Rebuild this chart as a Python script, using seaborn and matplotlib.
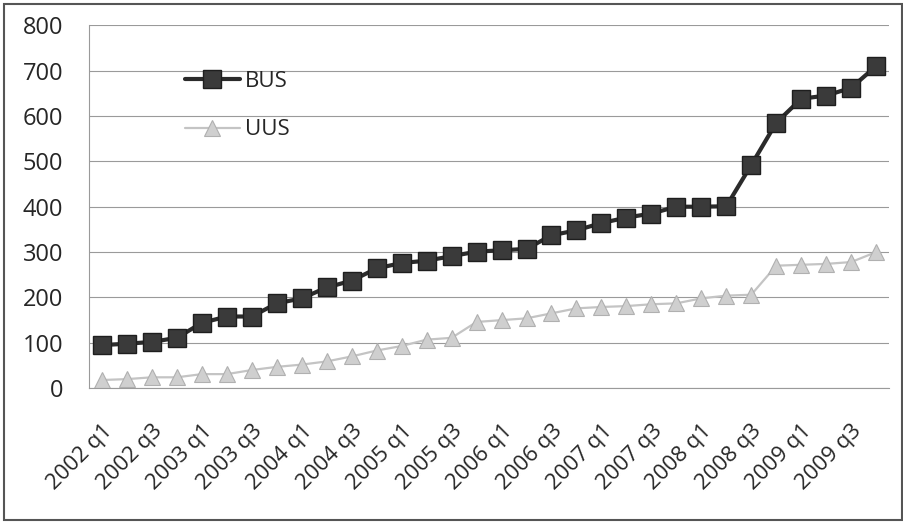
import pandas as pd
import numpy as np
import matplotlib.pyplot as plt
import seaborn as sns

# Data (quarterly, 2002 q1 .. 2009 q4)
years = list(range(2002, 2010))
quarters = [f"{y} q{q}" for y in years for q in range(1, 5)]
bus = [95, 98, 102, 111, 144, 158, 158, 187, 198, 222, 237, 264, 276, 281, 291, 301,
       304, 307, 337, 348, 364, 376, 385, 400, 400, 401, 492, 585, 638, 645, 662, 710]
uus = [18, 20, 24, 24, 31, 31, 40, 47, 52, 59, 70, 83, 93, 107, 111, 146,
       150, 154, 165, 176, 179, 181, 185, 187, 198, 204, 206, 270, 272, 274, 278, 300]
y_ticks = [0, 100, 200, 300, 400, 500, 600, 700, 800]

df = pd.DataFrame({'idx': np.arange(len(quarters)), 'quarter': quarters, 'BUS': bus, 'UUS': uus})

sns.set_style("white")
plt.rcParams['font.family'] = ['Open Sans', 'DejaVu Sans']

fig = plt.figure(figsize=(9.04, 5.26), dpi=100)
ax = fig.add_axes([0.099, 0.262, 0.884, 0.69])

sns.lineplot(data=df, x='idx', y='BUS', ax=ax, color='#2b2b2b', lw=3, marker='s',
             markersize=13.5, markerfacecolor='#3a3a3a', markeredgecolor='#1e1e1e',
             markeredgewidth=1, label='BUS')
sns.lineplot(data=df, x='idx', y='UUS', ax=ax, color='#c4c4c4', lw=1.6, marker='^',
             markersize=11, markerfacecolor='#cfcfcf', markeredgecolor='#b0b0b0',
             markeredgewidth=0.8, label='UUS')

ax.set_xlim(-0.5, len(quarters) - 0.5)
ax.set_ylim(0, 800)
ax.set_yticks(y_ticks)
ax.yaxis.grid(True, color='#9a9a9a', lw=0.8)
ax.set_xlabel('')
ax.set_ylabel('')
for s in ['top', 'right']:
    ax.spines[s].set_visible(False)
ax.spines['left'].set_color('#9a9a9a')
ax.spines['bottom'].set_color('#9a9a9a')

# labels on every other quarter, tick marks between categories
ax.set_xticks(df['idx'][::2])
ax.set_xticklabels(df['quarter'][::2], rotation=45, ha='right', rotation_mode='anchor', fontsize=16)
ax.set_xticks(np.arange(-0.5, len(quarters)), minor=True)
ax.tick_params(axis='x', which='major', length=0, pad=23)
ax.tick_params(axis='x', which='minor', length=5, color='#9a9a9a', direction='out')
ax.tick_params(axis='y', length=0, labelsize=17, pad=19)

leg = ax.legend(loc='upper left', bbox_to_anchor=(0.094, 0.93), frameon=False, fontsize=16,
                handlelength=2.5, labelspacing=1.25, handletextpad=0.2)

fig.add_artist(plt.Rectangle((0.004, 0.011), 0.994, 0.981, transform=fig.transFigure,
                             fill=False, edgecolor='#555555', lw=1.5))

plt.savefig('out.png', dpi=100)
